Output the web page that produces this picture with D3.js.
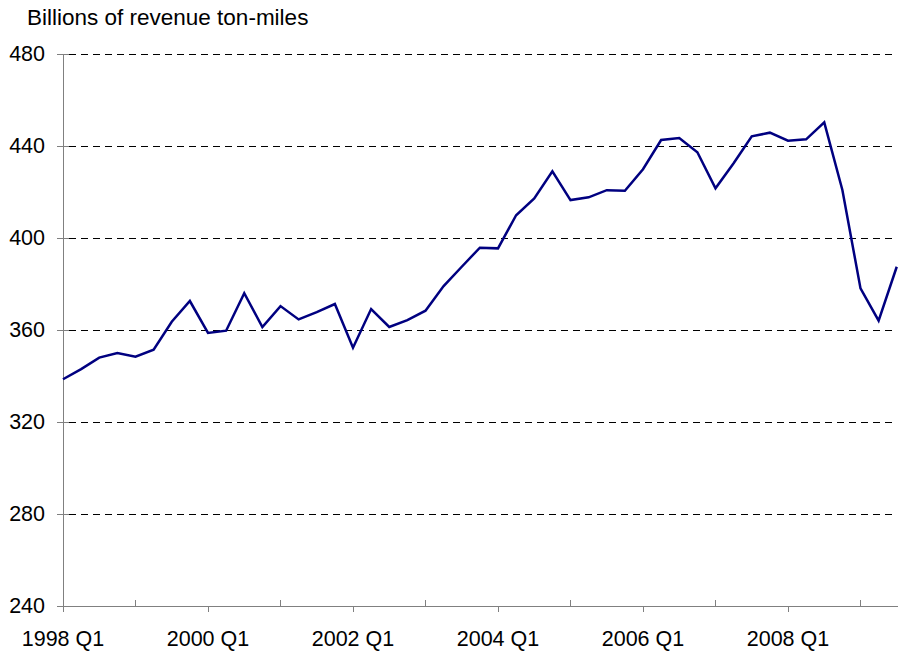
<!DOCTYPE html>
<html>
<head>
<meta charset="utf-8">
<script src="https://cdn.jsdelivr.net/npm/d3@7"></script>
<style>
  body { margin: 0; background: #fff; }
  svg { display: block; font-family: "Liberation Sans", Arial, sans-serif; }
</style>
</head>
<body>
<svg id="chart" width="912" height="652"></svg>
<script>
const quarters = [];
for (let yr = 1998; yr <= 2009; yr++) for (let q = 1; q <= 4; q++) quarters.push(yr + " Q" + q);
const categories = quarters.slice(0, 47); // 1998 Q1 .. 2009 Q3

const values = [
  338.6, 343.0, 348.0, 350.0, 348.4, 351.4, 363.6, 372.6,
  358.7, 359.7, 376.0, 361.3, 370.4, 364.6, 367.8, 371.3,
  352.3, 369.1, 361.3, 364.3, 368.4, 379.1, 387.5, 395.8,
  395.5, 409.9, 417.2, 429.0, 416.5, 417.7, 420.8, 420.5,
  429.9, 442.6, 443.5, 437.3, 421.6, 432.5, 444.2, 445.8,
  442.3, 442.9, 450.3, 420.9, 378.1, 364.1, 387.5
];

const yTicks = [240, 280, 320, 360, 400, 440, 480];
const xLabelCats = ["1998 Q1", "2000 Q1", "2002 Q1", "2004 Q1", "2006 Q1", "2008 Q1"];
const xMinorCats = ["1999 Q1", "2001 Q1", "2003 Q1", "2005 Q1", "2007 Q1", "2009 Q1"];
const yTitle = "Billions of revenue ton-miles";

const svg = d3.select("#chart");
const pLeft = 63, pRight = 896.75, pTop = 54, pBottom = 606;
const fs = 21.5;

const x = d3.scalePoint().domain(categories).range([pLeft, pRight]);
const y = d3.scaleLinear().domain([240, 480]).range([pBottom, pTop]);

// gridlines
svg.append("g").selectAll("line").data(yTicks.filter(d => d > 240)).join("line")
  .attr("x1", pLeft + 6).attr("x2", pRight)
  .attr("y1", d => y(d)).attr("y2", d => y(d))
  .attr("stroke", "#000").attr("stroke-width", 1)
  .attr("stroke-dasharray", "7,5")
  .attr("shape-rendering", "crispEdges");

// y axis
const yAxis = d3.axisLeft(y).tickValues(yTicks).tickSize(6).tickPadding(12).tickFormat(d3.format("d"));
const gy = svg.append("g").attr("transform", `translate(${pLeft},0)`).call(yAxis);
gy.select(".domain").attr("stroke", "#808080").attr("d", `M0,${pTop}V${pBottom + 6}`)
  .attr("shape-rendering", "crispEdges");
gy.selectAll(".tick line").attr("stroke", "#808080").attr("x1", 6)
  .attr("shape-rendering", "crispEdges");
gy.selectAll("text").attr("font-size", fs).attr("fill", "#000")
  .attr("font-family", "Liberation Sans, Arial, sans-serif");

// x axis
const gx = svg.append("g").attr("transform", `translate(0,${pBottom})`);
gx.append("line").attr("x1", pLeft).attr("x2", pRight + 1).attr("y1", 0).attr("y2", 0)
  .attr("stroke", "#808080").attr("shape-rendering", "crispEdges");
gx.selectAll(".major").data(xLabelCats).join("line").attr("class", "major")
  .attr("x1", d => x(d)).attr("x2", d => x(d)).attr("y1", 0).attr("y2", 6)
  .attr("stroke", "#808080").attr("shape-rendering", "crispEdges");
gx.selectAll(".minor").data(xMinorCats).join("line").attr("class", "minor")
  .attr("x1", d => x(d)).attr("x2", d => x(d)).attr("y1", 0).attr("y2", -6)
  .attr("stroke", "#808080").attr("shape-rendering", "crispEdges");
gx.selectAll("text").data(xLabelCats).join("text")
  .attr("x", d => x(d)).attr("y", 40)
  .attr("text-anchor", "middle").attr("font-size", fs).attr("fill", "#000")
  .text(d => d);

// line
const line = d3.line().x((d, i) => x(categories[i])).y(d => y(d));
svg.append("path").datum(values)
  .attr("d", line).attr("fill", "none")
  .attr("stroke", "#000080").attr("stroke-width", 2.5)
  .attr("stroke-linejoin", "miter");

// title
svg.append("text").attr("x", 27).attr("y", 25).attr("font-size", 22.5).attr("fill", "#000").text(yTitle);
</script>
</body>
</html>
